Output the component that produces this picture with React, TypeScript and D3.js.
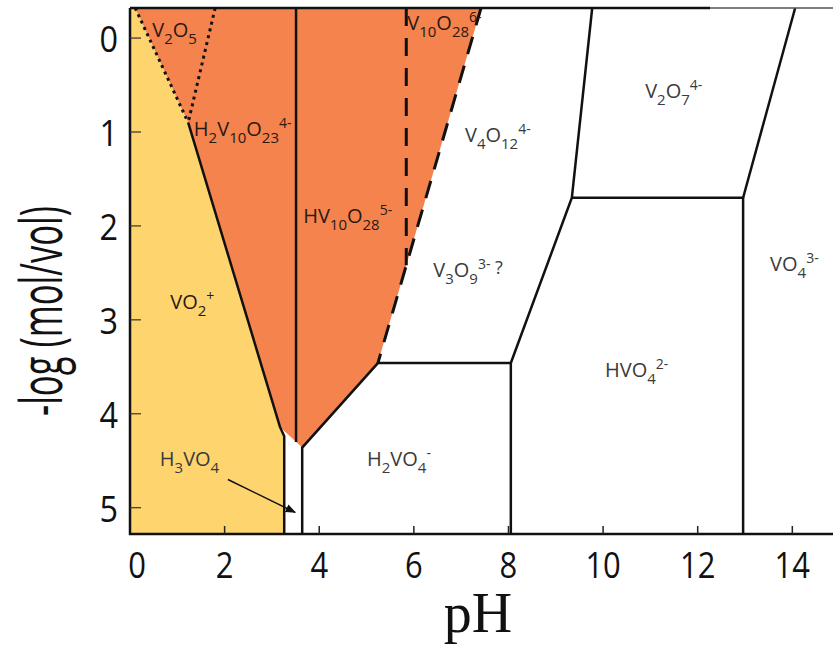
import React from 'react';
import * as d3 from 'd3';

const W = 833;
const H = 647;

// axis domains
const PH_DOMAIN: [number, number] = [0, 14.86];
const V_DOMAIN: [number, number] = [-0.32, 5.28];
const TOP = V_DOMAIN[0];
const BOT = V_DOMAIN[1];

const xTicks = [0, 2, 4, 6, 8, 10, 12, 14];
const yTicks = [0, 1, 2, 3, 4, 5];

// regions [pH, -log c]
const yellowRegion: [number, number][] = [
  [0, TOP], [0.11, TOP], [1.23, 0.9], [3.17, 4.14], [3.26, 4.24], [3.26, BOT], [0, BOT],
];
const orangeRegion: [number, number][] = [
  [0.11, TOP], [7.42, TOP], [5.24, 3.46], [3.64, 4.36], [3.17, 4.14], [1.23, 0.9],
];

// boundaries
const solidLines: [number, number][][] = [
  [[1.23, 0.9], [3.17, 4.14], [3.26, 4.24], [3.26, BOT]],
  [[3.51, TOP], [3.51, 4.3]],
  [[3.64, BOT], [3.64, 4.36], [5.24, 3.46], [8.05, 3.46], [8.05, BOT]],
  [[8.05, 3.46], [9.34, 1.7], [9.77, TOP]],
  [[9.34, 1.7], [12.96, 1.7], [12.96, BOT]],
  [[12.96, 1.7], [14.06, TOP]],
];
const dottedLines: [number, number][][] = [
  [[0.11, TOP], [1.23, 0.9]],
  [[1.8, TOP], [1.23, 0.9]],
];
const dashedLines: [number, number][][] = [
  [[7.42, TOP], [5.24, 3.46]],
  [[5.84, TOP], [5.84, 2.42]],
];

type Part = [string, 'n' | 'sub' | 'sup' | 'raised'];
interface Label { ph: number; v: number; parts: Part[]; dark: boolean }

const labels: Label[] = [
  { ph: 0.47, v: -0.01, dark: true, parts: [['V', 'n'], ['2', 'sub'], ['O', 'n'], ['5', 'sub']] },
  { ph: 1.35, v: 1.04, dark: true, parts: [['H', 'n'], ['2', 'sub'], ['V', 'n'], ['10', 'sub'], ['O', 'n'], ['23', 'sub'], ['4-', 'sup']] },
  { ph: 5.86, v: -0.09, dark: true, parts: [['V', 'n'], ['10', 'sub'], ['O', 'n'], ['28', 'sub'], ['6-', 'sup']] },
  { ph: 3.66, v: 1.97, dark: true, parts: [['HV', 'n'], ['10', 'sub'], ['O', 'n'], ['28', 'sub'], ['5-', 'sup']] },
  { ph: 0.85, v: 2.88, dark: true, parts: [['VO', 'n'], ['2', 'sub'], ['+', 'sup']] },
  { ph: 7.08, v: 1.11, dark: false, parts: [['V', 'n'], ['4', 'sub'], ['O', 'n'], ['12', 'sub'], ['4-', 'sup']] },
  { ph: 6.41, v: 2.54, dark: false, parts: [['V', 'n'], ['3', 'sub'], ['O', 'n'], ['9', 'sub'], ['3-', 'sup'], [' ?', 'raised']] },
  { ph: 10.89, v: 0.64, dark: false, parts: [['V', 'n'], ['2', 'sub'], ['O', 'n'], ['7', 'sub'], ['4-', 'sup']] },
  { ph: 13.53, v: 2.48, dark: false, parts: [['VO', 'n'], ['4', 'sub'], ['3-', 'sup']] },
  { ph: 10.04, v: 3.61, dark: false, parts: [['HVO', 'n'], ['4', 'sub'], ['2-', 'sup']] },
  { ph: 0.63, v: 4.56, dark: false, parts: [['H', 'n'], ['3', 'sub'], ['VO', 'n'], ['4', 'sub']] },
  { ph: 5.01, v: 4.56, dark: false, parts: [['H', 'n'], ['2', 'sub'], ['VO', 'n'], ['4', 'sub'], ['-', 'sup']] },
];

const arrowFrom: [number, number] = [2.07, 4.7];
const arrowTo: [number, number] = [3.49, 5.05];

const YELLOW = '#FDD46E';
const ORANGE = '#F4834E';

export default function App() {
  const x = d3.scaleLinear().domain(PH_DOMAIN).range([130, 833]);
  const y = d3.scaleLinear().domain(V_DOMAIN).range([8, 534]);
  const line = d3.line<[number, number]>().x(d => x(d[0])).y(d => y(d[1]));
  const area = (pts: [number, number][]) => line(pts) + 'Z';

  const renderLabel = (l: Label, i: number) => {
    let off = 0;
    const spans = l.parts.map((p, j) => {
      const target = p[1] === 'sub' ? 7 : p[1] === 'sup' ? -8 : p[1] === 'raised' ? -3 : 0;
      const dy = target - off;
      off = target;
      const fs = p[1] === 'sub' ? 15 : p[1] === 'sup' ? 14 : p[1] === 'raised' ? 18 : 20;
      return (
        <tspan key={j} dy={dy} fontSize={fs}>{p[0]}</tspan>
      );
    });
    return (
      <text key={i} x={x(l.ph)} y={y(l.v)} fontFamily="'Open Sans', sans-serif"
        fill={l.dark ? '#2a1a12' : '#3a3a3a'} fontSize={20} xmlSpace="preserve">
        {spans}
      </text>
    );
  };

  return (
    <svg width={W} height={H} style={{ position: 'absolute', left: 0, top: 0, background: '#fff' }}>
      <defs>
        <marker id="arr" viewBox="0 0 10 10" refX="9" refY="5" markerWidth="7" markerHeight="7" orient="auto">
          <path d="M0,1 L10,5 L0,9 Z" fill="#111" />
        </marker>
      </defs>
      <rect x={0} y={0} width={W} height={H} fill="#fff" />
      <path d={area(yellowRegion)} fill={YELLOW} />
      <path d={area(orangeRegion)} fill={ORANGE} />

      {solidLines.map((s, i) => (
        <path key={'s' + i} d={line(s) || ''} fill="none" stroke="#111" strokeWidth={2.5} strokeLinejoin="miter" />
      ))}
      {dottedLines.map((s, i) => (
        <path key={'d' + i} d={line(s) || ''} fill="none" stroke="#111" strokeWidth={3} strokeDasharray="3 4" />
      ))}
      {dashedLines.map((s, i) => (
        <path key={'da' + i} d={line(s) || ''} fill="none" stroke="#111" strokeWidth={3} strokeDasharray="18 12" />
      ))}

      <line x1={x(arrowFrom[0])} y1={y(arrowFrom[1])} x2={x(arrowTo[0])} y2={y(arrowTo[1])}
        stroke="#111" strokeWidth={1.5} markerEnd="url(#arr)" />

      {labels.map(renderLabel)}

      {/* frame */}
      <line x1={130} y1={8} x2={710} y2={8} stroke="#111" strokeWidth={2.5} />
      <line x1={710} y1={8} x2={833} y2={8} stroke="#555" strokeWidth={1.5} />
      <line x1={130} y1={8} x2={130} y2={535} stroke="#111" strokeWidth={2.5} />
      <line x1={129} y1={534} x2={833} y2={534} stroke="#111" strokeWidth={2.5} />

      {xTicks.filter(t => t > 0).map(t => (
        <line key={'xt' + t} x1={x(t)} x2={x(t)} y1={534} y2={526} stroke="#222" strokeWidth={1.5} />
      ))}
      {yTicks.map(t => (
        <line key={'yt' + t} x1={130} x2={141} y1={y(t)} y2={y(t)} stroke="#333" strokeWidth={1.2} />
      ))}

      {xTicks.map(t => (
        <text key={'xl' + t} transform={`translate(${x(t) + (t === 0 ? 7 : 0)},578) scale(0.86,1)`}
          textAnchor="middle" fontFamily="'Open Sans', sans-serif" fontSize={36} fill="#111">{t}</text>
      ))}
      {yTicks.map(t => (
        <text key={'yl' + t} transform={`translate(118,${y(t)}) scale(0.9,1)`} textAnchor="end"
          dominantBaseline="central" fontFamily="'Open Sans', sans-serif" fontSize={36} fill="#111">{t}</text>
      ))}

      <text x={478} y={632} textAnchor="middle" fontFamily="'Liberation Serif', 'Times New Roman', serif"
        fontSize={56} fill="#111">pH</text>
      <text transform="translate(62,311) rotate(-90)" textAnchor="middle"
        fontFamily="'Open Sans', sans-serif" fontSize={58} fill="#111"
        textLength={210} lengthAdjust="spacingAndGlyphs">-log (mol/vol)</text>
    </svg>
  );
}
